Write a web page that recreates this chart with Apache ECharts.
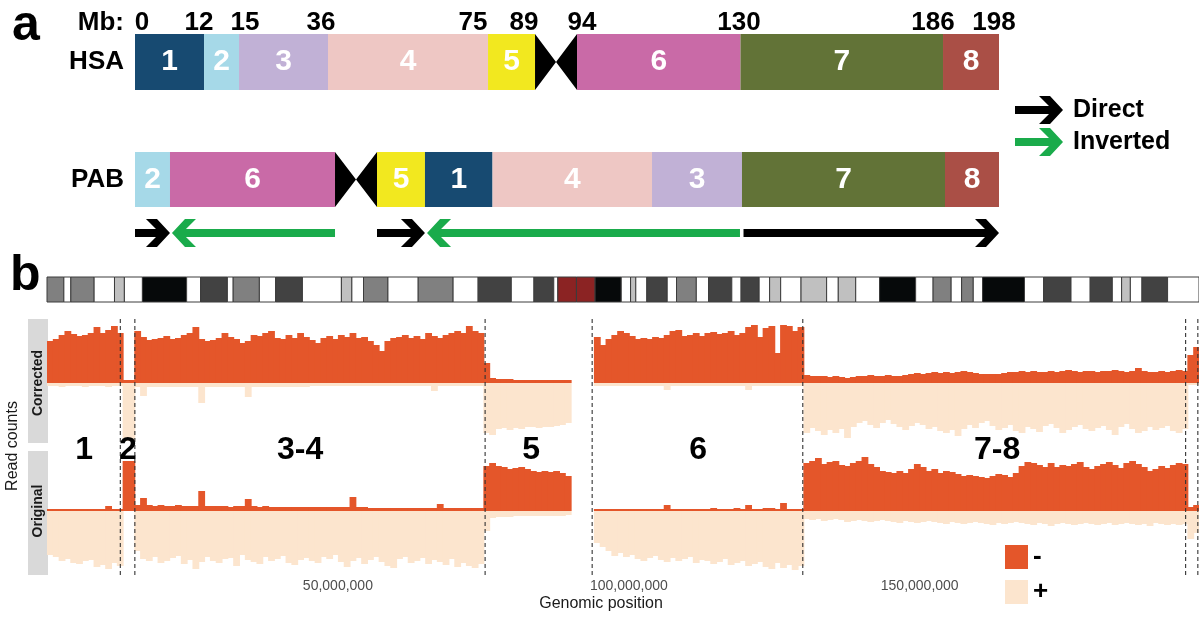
<!DOCTYPE html>
<html>
<head>
<meta charset="utf-8">
<script src="https://cdn.jsdelivr.net/npm/echarts@6/dist/echarts.min.js"></script>
<style>
html, body { margin: 0; padding: 0; background: #fff; }
#chart { width: 1199px; height: 624px; }
</style>
</head>
<body>
<div id="chart"></div>
<script>
const FONT = '"Liberation Sans", Arial, sans-serif'

// ---- panel a: schematic blocks, x in % of bar length ----
const hsaBlocks = ['1', '2', '3', '4', '5', 'cen', '6', '7', '8']
const hsaEdges = [0, 7.99, 12.04, 22.34, 40.86, 46.30, 51.16, 70.08, 93.52, 100]
const pabBlocks = ['2', '6', 'cen', '5', '1', '4', '3', '7', '8']
const pabEdges = [0, 4.05, 23.15, 28.01, 33.56, 41.38, 59.84, 70.25, 93.75, 100]
const mbLabels = ['0', '12', '15', '36', '75', '89', '94', '130', '186', '198']
const mbLabelPos = [0.81, 7.41, 12.73, 21.53, 39.12, 45.02, 51.74, 69.91, 92.36, 99.42]
const arrowFrom = [0, 23.15, 28.01, 70.02, 70.43]
const arrowTo = [4.05, 4.28, 33.56, 33.80, 100]
const arrowKind = ['Direct', 'Inverted', 'Direct', 'Inverted', 'Direct']

// ---- panel b: ideogram bands (Mb) ----
const CHR_MB = 198
const ideoStarts = [0, 2.9, 4.1, 8.1, 11.6, 13.3, 16.4, 24.0, 26.4, 31.0,
  32.0, 36.5, 39.3, 43.9, 50.6, 52.4, 54.4, 58.6, 63.8, 69.8,
  74.1, 79.8, 83.7, 87.1, 87.8, 91.0, 94.2, 98.7, 100.3, 101.2,
  103.1, 106.6, 108.2, 111.6, 113.7, 117.7, 119.3, 122.4, 124.2, 126.1,
  129.6, 134.0, 136.0, 139.0, 143.1, 149.3, 152.3, 155.4, 157.2, 159.2,
  160.8, 168.0, 171.3, 176.0, 179.3, 183.1, 184.7, 186.2, 188.2, 192.6]
const ideoStains = ['g50', 'w', 'g50', 'w', 'g25', 'w', 'blk', 'w', 'g75', 'w',
  'g50', 'w', 'g75', 'w', 'g25', 'w', 'g50', 'w', 'g50', 'w',
  'g75', 'w', 'g75', 'w', 'acen', 'acen', 'blk', 'w', 'g25', 'w',
  'g75', 'w', 'g50', 'w', 'g75', 'w', 'g75', 'w', 'g25', 'w',
  'g25', 'w', 'g25', 'w', 'blk', 'w', 'g50', 'w', 'g50', 'w',
  'blk', 'w', 'g75', 'w', 'g75', 'w', 'g25', 'w', 'g75', 'w']

// ---- panel b: read counts per 1 Mb bin (- strand up, + strand down) ----
const BIN = 1e6
const corrMinus = [
  42, 44, 48, 52, 49, 47, 48, 50, 56, 50, 53, 57, 50,
  3, 3,
  52, 46, 43, 44, 45, 47, 44, 45, 48, 50, 56, 44, 42, 43, 45, 50, 46, 44, 40, 42,
  48, 47, 50, 52, 45, 44, 48, 45, 50, 46, 43, 40, 45, 47, 44, 48, 46, 50, 45, 46,
  42, 38, 32, 42, 45, 46, 48, 45, 47, 44, 50, 47, 45, 48, 50, 52, 50, 57, 52, 50,
  20, 5, 4, 4, 4, 3, 3, 3, 3, 3, 3, 3, 3, 3, 3,
  null, null, null, null,
  46, 38, 44, 48, 52, 50, 47, 44, 45, 44, 46, 45, 48, 52, 53, 47, 48, 50, 47, 50,
  51, 49, 50, 52, 48, 50, 56, 58, 46, 55, 57, 30, 58, 57, 52, 56,
  8, 7, 7, 7, 6, 7, 6, 5, 6, 7, 7, 8, 7, 7, 8, 7, 7, 8, 9, 10,
  9, 10, 11, 10, 11, 10, 11, 12, 11, 10, 9, 9, 9, 9, 10, 11, 11, 12, 11, 12,
  11, 11, 12, 11, 12, 13, 12, 11, 12, 12, 11, 12, 12, 13, 12, 11, 12, 15, 12, 11,
  11, 12, 11, 12, 13, 12,
  28, 36]
const corrPlus = [
  3, 3, 4, 3, 3, 3, 4, 3, 3, 3, 4, 3, 3,
  58, 58,
  4, 13, 4, 4, 4, 4, 4, 4, 4, 4, 4, 20, 4, 4, 4, 4, 4, 4, 4, 14,
  4, 4, 4, 4, 4, 4, 4, 4, 4, 4, 3, 3, 3, 3, 3, 3, 3, 3, 3, 3,
  3, 3, 3, 3, 3, 3, 3, 3, 3, 3, 3, 8, 3, 3, 3, 3, 3, 3, 3, 3,
  50, 52, 46, 45, 47, 45, 46, 44, 44, 45, 44, 44, 43, 42, 40,
  null, null, null, null,
  3, 3, 3, 3, 3, 3, 3, 3, 3, 3, 3, 3, 7, 3, 3, 3, 3, 3, 3, 3,
  3, 3, 3, 3, 3, 3, 7, 3, 3, 3, 3, 3, 3, 3, 3, 3,
  50, 45, 48, 52, 47, 50, 46, 55, 44, 40, 38, 42, 45, 40, 37, 41, 44, 47, 43, 40,
  42, 46, 44, 48, 50, 47, 53, 46, 42, 45, 40, 38, 43, 47, 45, 42, 48, 50, 44, 46,
  49, 43, 41, 45, 50, 47, 44, 42, 46, 48, 45, 43, 47, 52, 44, 41, 46, 50, 48, 44,
  47, 45, 43, 48, 50, 46,
  2, 2]
const origMinus = [
  2, 2, 2, 2, 2, 2, 2, 2, 2, 2, 5, 2, 2,
  50, 50,
  6, 13, 6, 5, 6, 5, 5, 6, 5, 5, 5, 20, 5, 5, 5, 5, 4, 5, 5, 12,
  5, 4, 5, 4, 4, 4, 4, 4, 4, 4, 4, 4, 4, 4, 4, 4, 4, 14, 4, 4,
  3, 3, 3, 3, 3, 3, 3, 3, 3, 3, 3, 3, 7, 3, 3, 3, 3, 3, 3, 3,
  45, 48, 45, 44, 42, 43, 44, 42, 40, 39, 40, 39, 40, 38, 35,
  null, null, null, null,
  2, 2, 2, 2, 2, 2, 2, 2, 2, 2, 2, 2, 6, 2, 2, 2, 2, 2, 2, 2,
  3, 2, 2, 2, 3, 2, 6, 2, 2, 3, 3, 2, 8, 2, 2, 2,
  48, 50, 53, 47, 49, 50, 46, 45, 48, 50, 54, 47, 44, 40, 39, 38, 40, 38, 42, 47,
  44, 40, 42, 38, 40, 39, 37, 35, 36, 35, 34, 33, 35, 37, 36, 34, 38, 45, 49, 48,
  46, 44, 48, 44, 46, 45, 47, 49, 44, 42, 45, 47, 49, 46, 43, 48, 50, 47, 44, 40,
  42, 45, 43, 46, 48, 47,
  4, 6]
const origPlus = [
  44, 46, 50, 48, 52, 53, 50, 49, 56, 54, 58, 52, 55,
  0, 0,
  40, 48, 50, 46, 52, 50, 47, 45, 53, 49, 58, 51, 46, 50, 52, 48, 47, 55, 44, 49,
  51, 53, 46, 50, 48, 45, 52, 54, 49, 47, 50, 52, 46, 48, 44, 51, 56, 50, 47, 53,
  49, 46, 51, 55, 57, 48, 46, 52, 50, 47, 53, 49, 51, 54, 48, 56, 52, 55, 57, 53,
  20, 7, 6, 6, 6, 5, 5, 5, 5, 5, 5, 5, 5, 5, 4,
  null, null, null, null,
  32, 36, 40, 45, 42, 46, 44, 48, 50, 47, 45, 49, 51, 47, 50, 48, 46, 52, 49, 50,
  53, 51, 48, 54, 52, 50, 55, 53, 51, 56, 58, 52, 57, 54, 59, 55,
  8, 9, 8, 10, 9, 8, 9, 11, 10, 9, 10, 11, 10, 9, 10, 11, 12, 10, 11, 12,
  11, 10, 11, 12, 13, 11, 12, 13, 12, 11, 12, 13, 14, 12, 13, 12, 11, 12, 13, 14,
  12, 13, 15, 13, 12, 13, 14, 13, 12, 13, 14, 13, 12, 14, 13, 12, 13, 14, 13, 15,
  12, 13, 14, 13, 14, 13,
  28, 22]

const breakpoints = [12.6, 15.1, 75.3, 93.7, 129.9, 195.7, 197.8]
const regionLabels = ['1', '2', '3-4', '5', '6', '7-8']
const regionLabelPos = [6.4, 13.9, 43.5, 83.2, 111.9, 163.3]
const xTicks = [50e6, 100e6, 150e6]

const blockColors = {
  '1': '#174a71', '2': '#a6d9e8', '3': '#c1b1d6', '4': '#eec7c4',
  '5': '#f2e81f', '6': '#c96aa7', '7': '#627337', '8': '#aa4f46'
}
const stainColors = { w: '#ffffff', g25: '#c0c0c0', g50: '#808080', g75: '#424242', blk: '#06090a', acen: '#8b2323' }
const ORANGE = '#e4562a'
const LIGHT = '#fce5ce'

const chart = echarts.init(document.getElementById('chart'))

// rectangles of a karyotype row
const blockItem = (blocks, edges) => (params, api) => {
  const i = params.dataIndex
  const p0 = api.coord([edges[i], 0])
  const p1 = api.coord([edges[i + 1], 0])
  const h = api.size([0, 1])[1]
  const top = p0[1] - h / 2
  if (blocks[i] === 'cen') {
    const xm = (p0[0] + p1[0]) / 2
    return {
      type: 'polygon',
      shape: { points: [[p0[0], top], [xm, p0[1]], [p1[0], top], [p1[0], top + h], [xm, p0[1]], [p0[0], top + h]] },
      style: { fill: '#000' }
    }
  }
  return {
    type: 'rect',
    shape: { x: p0[0], y: top, width: p1[0] - p0[0], height: h },
    style: { fill: blockColors[blocks[i]] },
    textContent: { style: { text: blocks[i], fill: '#fff', fontSize: 30, fontWeight: 'bold', fontFamily: FONT } },
    textConfig: { position: 'inside' }
  }
}

const arrowItem = (params, api) => {
  const a = api.coord([api.value(0), 0])
  const b = api.coord([api.value(1), 0])
  const d = b[0] > a[0] ? 1 : -1
  const T = b[0], cy = a[1], x0 = a[0]
  return {
    type: 'polygon',
    shape: { points: [[x0, cy - 4], [T - d * 14, cy - 4], [T - d * 24, cy - 14], [T - d * 13, cy - 14], [T, cy],
      [T - d * 13, cy + 14], [T - d * 24, cy + 14], [T - d * 14, cy + 4], [x0, cy + 4]] },
    style: { fill: api.visual('color') }
  }
}

const binItem = sign => (params, api) => {
  const x = api.value(0)
  const p0 = api.coord([x, 0])
  const p1 = api.coord([x + BIN, sign * api.value(1)])
  return {
    type: 'rect',
    shape: { x: p0[0], y: Math.min(p0[1], p1[1]), width: p1[0] - p0[0] + 1, height: Math.abs(p1[1] - p0[1]) },
    style: { fill: api.visual('color') }
  }
}

// plain text placed at a data point
const textItem = (labels, size) => (params, api) => {
  const p = api.coord([api.value(0), api.value(1)])
  return {
    type: 'text', x: p[0], y: p[1],
    style: { text: labels[params.dataIndex], fill: '#000', fontSize: size, fontWeight: 'bold', fontFamily: FONT, align: 'center', verticalAlign: 'middle' }
  }
}

const toBins = arr => arr.map((v, i) => (v == null ? null : [i * BIN, v])).filter(Boolean)

const ARROW_ICON = 'path://M0,10L34,10L24,0L35,0L48,14L35,28L24,28L34,18L0,18Z'

const hidden = { show: false }
const schemX = i => ({ type: 'value', gridIndex: i, min: 0, max: 100, show: false })
const genomeX = i => ({ type: 'value', gridIndex: i, min: 0, max: CHR_MB * 1e6, show: false })
const rowY = (i, name) => ({
  type: 'category', gridIndex: i, data: [name],
  axisLine: hidden, axisTick: hidden, splitLine: hidden,
  axisLabel: { fontSize: 26, fontWeight: 'bold', color: '#000', margin: 11, fontFamily: FONT }
})
const grid = (top, height, left, right) => ({ top, height, left, right, outerBoundsMode: 'none', containLabel: false })

const option = {
  animation: false,
  textStyle: { fontFamily: FONT },
  grid: [
    grid(11, 24, 135, 200),   // 0 Mb labels
    grid(34, 56, 135, 200),   // 1 HSA
    grid(152, 55, 135, 200),  // 2 PAB
    grid(219, 28, 135, 200),  // 3 arrows
    grid(277, 25, 47, 0),     // 4 ideogram
    grid(319, 124, 47, 0),    // 5 corrected
    grid(451, 124, 47, 0),    // 6 original
    grid(319, 256, 47, 0)     // 7 overlay (breakpoints, region labels)
  ],
  xAxis: [
    schemX(0), schemX(1), schemX(2), schemX(3),
    genomeX(4), genomeX(5),
    {
      type: 'value', gridIndex: 6, min: 0, max: CHR_MB * 1e6, interval: 50e6,
      axisLine: hidden, splitLine: hidden,
      axisTick: { show: true, length: 3, lineStyle: { color: '#333' }, customValues: xTicks },
      axisLabel: {
        show: true, color: '#4d4d4d', fontSize: 14, margin: 4, customValues: xTicks,
        formatter: v => (v === 0 ? '' : String(v).replace(/\B(?=(\d{3})+(?!\d))/g, ','))
      }
    },
    genomeX(7)
  ],
  yAxis: [
    rowY(0, 'Mb:'), rowY(1, 'HSA'), rowY(2, 'PAB'),
    { type: 'value', gridIndex: 3, min: -1, max: 1, show: false },
    { type: 'value', gridIndex: 4, min: 0, max: 1, show: false },
    { type: 'value', gridIndex: 5, min: -60, max: 64, show: false },
    { type: 'value', gridIndex: 6, min: -64, max: 60, show: false },
    { type: 'value', gridIndex: 7, min: 0, max: 256, show: false }
  ],
  legend: [
    {
      data: ['Direct', 'Inverted'], orient: 'vertical', left: 1010, top: 91,
      itemWidth: 48, itemHeight: 28, itemGap: 4, icon: ARROW_ICON, selectedMode: false,
      textStyle: { fontSize: 25, fontWeight: 'bold', color: '#000', padding: [0, 0, 0, 5], fontFamily: FONT }
    },
    {
      data: ['-', '+'], orient: 'vertical', left: 1000, top: 539,
      itemWidth: 23, itemHeight: 24, itemGap: 9, icon: 'rect', selectedMode: false,
      textStyle: { fontSize: 26, fontWeight: 'bold', color: '#000', fontFamily: FONT }
    }
  ],
  graphic: [
    { type: 'text', left: 12, top: 1, style: { text: 'a', fontSize: 50, fontWeight: 'bold', fill: '#000', fontFamily: FONT } },
    { type: 'text', left: 10, top: 251, style: { text: 'b', fontSize: 50, fontWeight: 'bold', fill: '#000', fontFamily: FONT } },
    { type: 'rect', shape: { x: 28, y: 319, width: 20, height: 124 }, style: { fill: '#d9d9d9' } },
    { type: 'rect', shape: { x: 28, y: 451, width: 20, height: 124 }, style: { fill: '#d9d9d9' } },
    { type: 'text', x: 38, y: 383, rotation: Math.PI / 2,
      style: { text: 'Corrected', fontSize: 14, fontWeight: 'bold', fill: '#1a1a1a', align: 'center', verticalAlign: 'middle', fontFamily: FONT } },
    { type: 'text', x: 38, y: 511, rotation: Math.PI / 2,
      style: { text: 'Original', fontSize: 14, fontWeight: 'bold', fill: '#1a1a1a', align: 'center', verticalAlign: 'middle', fontFamily: FONT } },
    { type: 'text', x: 13, y: 446, rotation: Math.PI / 2,
      style: { text: 'Read counts', fontSize: 16, fill: '#1a1a1a', align: 'center', verticalAlign: 'middle', fontFamily: FONT } },
    { type: 'text', x: 601, y: 604,
      style: { text: 'Genomic position', fontSize: 16, fill: '#1a1a1a', align: 'center', verticalAlign: 'middle', fontFamily: FONT } }
  ],
  series: [
    {
      type: 'custom', xAxisIndex: 0, yAxisIndex: 0, renderItem: textItem(mbLabels, 26),
      encode: { x: 0, y: 1 }, data: mbLabelPos.map(x => [x, 0])
    },
    {
      type: 'custom', xAxisIndex: 1, yAxisIndex: 1, renderItem: blockItem(hsaBlocks, hsaEdges),
      encode: { x: [0, 1], y: 2 }, data: hsaBlocks.map((b, i) => [hsaEdges[i], hsaEdges[i + 1], 0])
    },
    {
      type: 'custom', xAxisIndex: 2, yAxisIndex: 2, renderItem: blockItem(pabBlocks, pabEdges),
      encode: { x: [0, 1], y: 2 }, data: pabBlocks.map((b, i) => [pabEdges[i], pabEdges[i + 1], 0])
    },
    ...['Direct', 'Inverted'].map(kind => ({
      type: 'custom', name: kind, xAxisIndex: 3, yAxisIndex: 3, renderItem: arrowItem,
      itemStyle: { color: kind === 'Direct' ? '#000' : '#1aab4b' },
      encode: { x: [0, 1], y: 2 },
      data: arrowFrom.map((f, i) => [f, arrowTo[i], 0]).filter((d, i) => arrowKind[i] === kind)
    })),
    {
      type: 'custom', xAxisIndex: 4, yAxisIndex: 4,
      encode: { x: [0, 1] },
      data: ideoStarts.map((s, i) => [s * 1e6, (i + 1 < ideoStarts.length ? ideoStarts[i + 1] : CHR_MB) * 1e6]),
      renderItem: (params, api) => {
        const p0 = api.coord([api.value(0), 1])
        const p1 = api.coord([api.value(1), 0])
        return {
          type: 'rect',
          shape: { x: p0[0], y: p0[1], width: p1[0] - p0[0], height: p1[1] - p0[1] },
          style: { fill: stainColors[ideoStains[params.dataIndex]], stroke: '#3c3c3c', lineWidth: 1 }
        }
      }
    },
    { type: 'custom', name: '-', xAxisIndex: 5, yAxisIndex: 5, itemStyle: { color: ORANGE }, renderItem: binItem(1), data: toBins(corrMinus) },
    { type: 'custom', name: '+', xAxisIndex: 5, yAxisIndex: 5, itemStyle: { color: LIGHT }, renderItem: binItem(-1), data: toBins(corrPlus) },
    { type: 'custom', name: '-', xAxisIndex: 6, yAxisIndex: 6, itemStyle: { color: ORANGE }, renderItem: binItem(1), data: toBins(origMinus) },
    { type: 'custom', name: '+', xAxisIndex: 6, yAxisIndex: 6, itemStyle: { color: LIGHT }, renderItem: binItem(-1), data: toBins(origPlus) },
    {
      type: 'custom', xAxisIndex: 7, yAxisIndex: 7, z: 5,
      data: breakpoints.map(b => [b * 1e6]),
      renderItem: (params, api) => {
        const a = api.coord([api.value(0), 0])
        const b = api.coord([api.value(0), 256])
        return {
          type: 'line', shape: { x1: a[0], y1: a[1], x2: b[0], y2: b[1] },
          style: { stroke: '#333', lineWidth: 1.1, lineDash: [4, 3] }
        }
      }
    },
    {
      type: 'custom', xAxisIndex: 7, yAxisIndex: 7, z: 6, renderItem: textItem(regionLabels, 32),
      encode: { x: 0, y: 1 }, data: regionLabelPos.map(x => [x * 1e6, 125])
    }
  ]
}

chart.setOption(option)
window.addEventListener('resize', () => chart.resize())
</script>
</body>
</html>
